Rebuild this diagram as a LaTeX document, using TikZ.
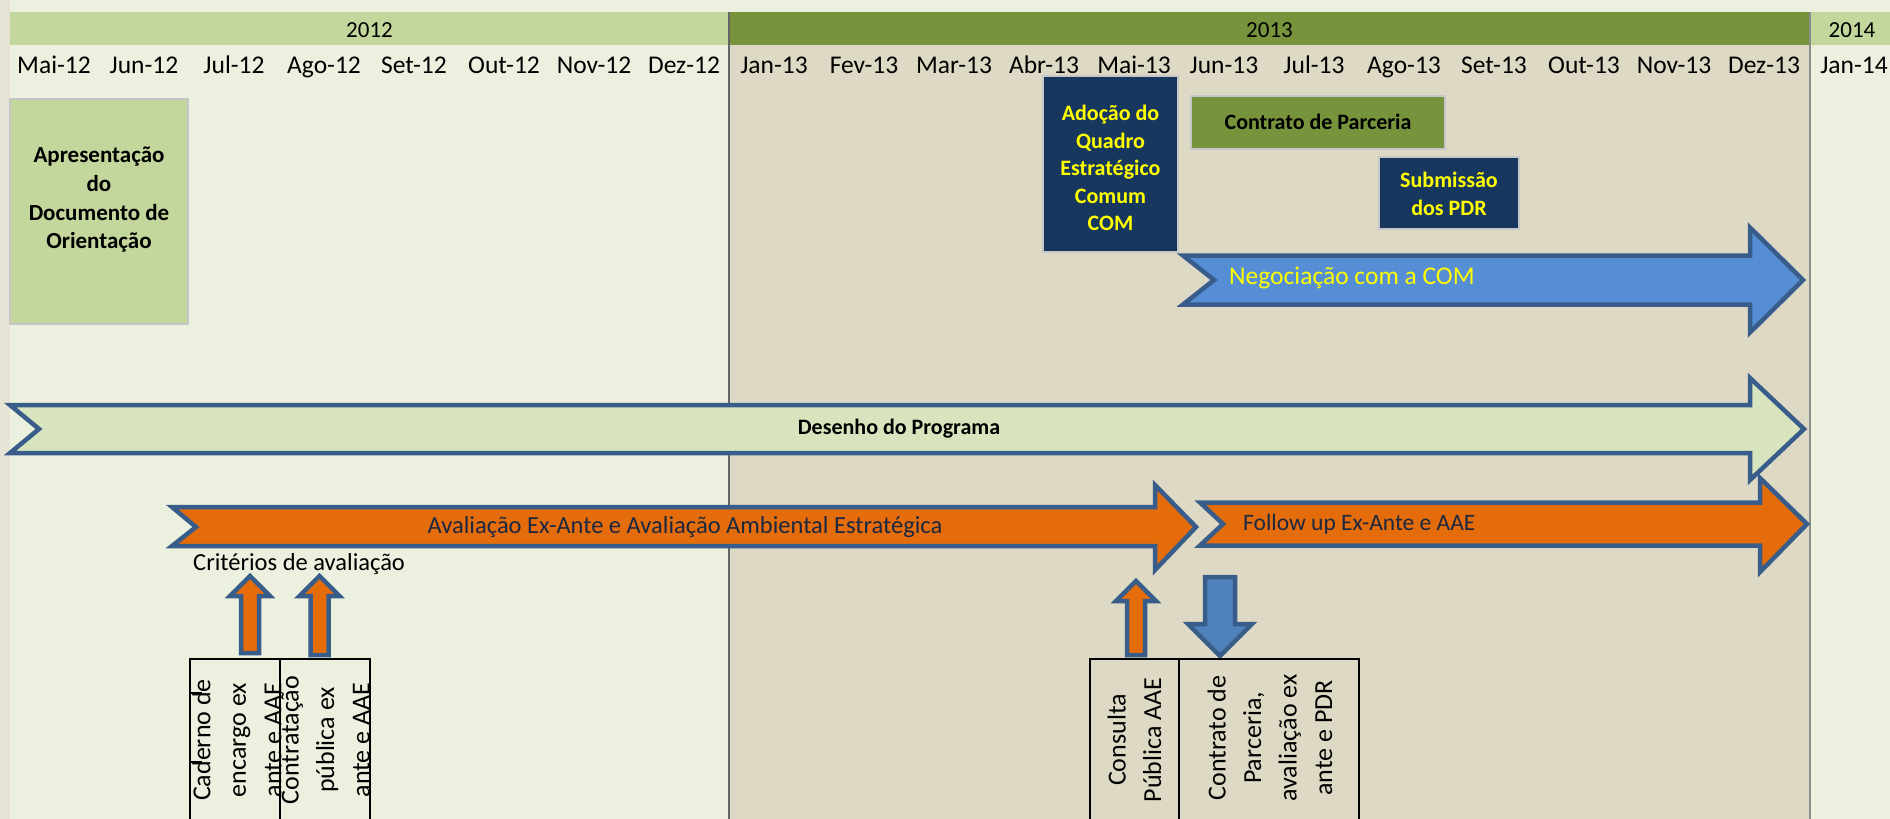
\documentclass[tikz,border=0pt]{standalone}
\usepackage{fontspec}
\setmainfont{Carlito}
\definecolor{bglight}{HTML}{EBF1DE}
\definecolor{edgebeige}{HTML}{E6E3D5}
\definecolor{bgbeige}{HTML}{DDD9C4}
\definecolor{yearlight}{HTML}{C3D69B}
\definecolor{olive}{HTML}{77933C}
\definecolor{navy}{HTML}{17375E}
\definecolor{desenho}{HTML}{D7E4BD}
\definecolor{orangefill}{HTML}{E46C0A}
\definecolor{arrowline}{HTML}{385D8A}
\definecolor{negblue}{HTML}{558ED5}
\definecolor{downblue}{HTML}{4F81BD}
\definecolor{darktext}{HTML}{1C2841}
\definecolor{yellowtext}{HTML}{FFFF00}
\begin{document}
\begin{tikzpicture}[x=1pt,y=-1pt,
  month/.style={inner sep=0pt, anchor=base, font=\fontsize{25.5}{30}\selectfont},
  yearlbl/.style={inner sep=0pt, anchor=base, font=\fontsize{23}{28}\selectfont},
  boldlbl/.style={inner sep=0pt, align=center, font=\bfseries\fontsize{22}{27.5}\selectfont},
  reglbl/.style={inner sep=0pt, font=\fontsize{24.5}{29}\selectfont},
  vlbl/.style={inner sep=0pt, rotate=90, align=center, font=\fontsize{26}{35.5}\selectfont},
  blockarrow/.style={draw=arrowline, line width=4.5pt, line join=miter},
  boxframe/.style={draw=gray!45, line width=1.5pt},
  cell/.style={draw=black, line width=2pt}]
\useasboundingbox (0,0) rectangle (1890,819);
% backgrounds
\fill[bglight] (0,0) rectangle (1890,819);
\fill[edgebeige] (0,0) rectangle (10,819);
\fill[bgbeige] (729,45) rectangle (1810,819);
% year bars
\fill[yearlight] (10,12) rectangle (729,45);
\fill[olive] (729,12) rectangle (1810,45);
\fill[yearlight] (1810,12) rectangle (1890,45);
\draw[line width=1.6pt, black!60] (729,12) -- (729,819);
\draw[line width=1.6pt, black!45] (1810,12) -- (1810,819);
\node[yearlbl] (y2012) at (369.5,37) {2012};
\node[yearlbl] (y2013) at (1269.5,37) {2013};
\node[yearlbl] (y2014) at (1852,37) {2014};
% months
\foreach \m [count=\i from 0] in {Mai-12,Jun-12,Jul-12,Ago-12,Set-12,Out-12,Nov-12,Dez-12,Jan-13,Fev-13,Mar-13,Abr-13,Mai-13,Jun-13,Jul-13,Ago-13,Set-13,Out-13,Nov-13,Dez-13,Jan-14}
  \node[month] (m\i) at (54+90*\i,73) {\m};
% boxes
\filldraw[fill=yearlight, boxframe] (10,99) rectangle (188,324);
\node[boldlbl, font=\bfseries\fontsize{23}{28.7}\selectfont] (apres) at (99,200) {Apresentação\\do\\Documento de\\Orientação};
\filldraw[fill=navy, boxframe] (1043,76) rectangle (1178,252);
\node[boldlbl, text=yellowtext] (adocao) at (1110.5,168) {Adoção do\\Quadro\\Estratégico\\Comum\\COM};
\filldraw[fill=olive, boxframe] (1191,96) rectangle (1445,149);
\node[boldlbl] (contrato) at (1318,122) {Contrato de Parceria};
\filldraw[fill=navy, boxframe] (1379,157) rectangle (1519,229);
\node[boldlbl] [text=yellowtext] (submissao) at (1449,194) {Submissão\\dos PDR};
% Negociacao arrow
\filldraw[fill=negblue, blockarrow] (1183,255.5) -- (1750,255.5) -- (1750,227.5) -- (1803,280) -- (1750,332.5) -- (1750,304.5) -- (1183,304.5) -- (1214,280) -- cycle;
\node[reglbl, anchor=west, text=yellowtext, font=\fontsize{25.5}{29}\selectfont] (negoc) at (1229,278) {Negociação com a COM};
% Desenho arrow
\filldraw[fill=desenho, blockarrow] (10,405) -- (1750,405) -- (1750,378) -- (1804,429) -- (1750,480) -- (1750,453) -- (10,453) -- (39,429) -- cycle;
\node[boldlbl] (desenho) at (899,429) {Desenho do Programa};
% Avaliacao arrow
\filldraw[fill=orangefill, blockarrow] (172,507) -- (1155,507) -- (1155,485) -- (1196,527) -- (1155,570) -- (1155,546) -- (172,546) -- (196,527) -- cycle;
\node[reglbl, text=darktext] (aval) at (685,527) {Avaliação Ex-Ante e Avaliação Ambiental Estratégica};
% Follow up arrow
\filldraw[fill=orangefill, blockarrow] (1200,502.5) -- (1760,502.5) -- (1760,478) -- (1807,524) -- (1760,572) -- (1760,545.5) -- (1200,545.5) -- (1223,524) -- cycle;
\node[reglbl, anchor=west, text=darktext, font=\fontsize{23.5}{29}\selectfont] (follow) at (1243,524) {Follow up Ex-Ante e AAE};
\node[reglbl, anchor=west] (criterios) at (193,564) {Critérios de avaliação};
% small up arrows
\filldraw[fill=orangefill, blockarrow] (241,653) -- (241,596) -- (230,596) -- (250,576) -- (270,596) -- (259,596) -- (259,653) -- cycle;
\filldraw[fill=orangefill, blockarrow] (310.5,655) -- (310.5,596) -- (299.5,596) -- (319.5,576) -- (339.5,596) -- (328.5,596) -- (328.5,655) -- cycle;
\filldraw[fill=orangefill, blockarrow] (1127,655) -- (1127,601) -- (1116,601) -- (1136,581) -- (1156,601) -- (1145,601) -- (1145,655) -- cycle;
% down arrow
\filldraw[fill=downblue, blockarrow] (1205,577) -- (1235,577) -- (1235,624) -- (1252,624) -- (1220,656) -- (1188,624) -- (1205,624) -- cycle;
% bottom cells
\draw[cell] (190,819) -- (190,659) -- (370,659) -- (370,819);
\draw[cell] (280,659) -- (280,819);
\draw[cell] (190,693) -- (202,693);
\draw[cell] (190,762) -- (202,762);
\draw[cell] (1090,819) -- (1090,659) -- (1359,659) -- (1359,819);
\draw[cell] (1179,659) -- (1179,819);
\node[vlbl] (caderno) at (237,740) {Caderno de\\encargo ex\\ante e AAE};
\node[vlbl] (contratacao) at (325.5,740) {Contratação\\pública ex\\ante e AAE};
\node[vlbl] (consulta) at (1134.5,740) {Consulta\\Pública AAE};
\node[vlbl] (contratopdr) at (1270,738) {Contrato de\\Parceria,\\avaliação ex\\ante e PDR};
\end{tikzpicture}
\end{document}
